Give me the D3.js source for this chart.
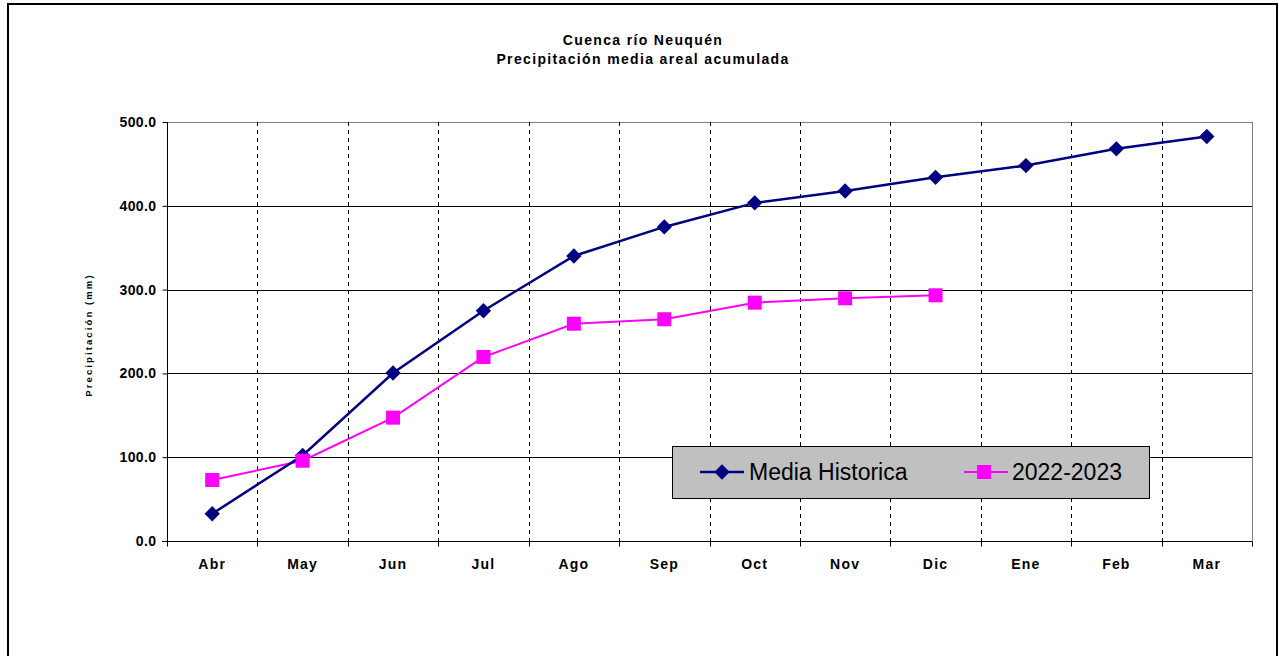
<!DOCTYPE html>
<html>
<head>
<meta charset="utf-8">
<script src="https://cdn.jsdelivr.net/npm/d3@7"></script>
<style>
  html, body { margin: 0; padding: 0; background: #fff; }
  svg { display: block; font-family: "Liberation Sans", Arial, sans-serif; }
</style>
</head>
<body>
<svg id="chart" width="1279" height="656"></svg>
<script>
// Monthly categories (hydrological year April–March)
const months = ["Abr", "May", "Jun", "Jul", "Ago", "Sep", "Oct", "Nov", "Dic", "Ene", "Feb", "Mar"];
// Accumulated areal mean precipitation (mm)
const mediaHistorica = [32.5, 102.0, 200.5, 274.8, 340.1, 374.8, 403.5, 417.7, 434.0, 448.0, 468.0, 482.7];
const temporada = [72.8, 95.8, 147.2, 219.6, 259.3, 264.6, 284.4, 289.6, 293.2];
const yTicks = [0, 100, 200, 300, 400, 500];

const titleLines = ["Cuenca río Neuquén", "Precipitación media areal acumulada"];
const seriesNames = ["Media Historica", "2022-2023"];

const svg = d3.select("#chart");

// outer frame
svg.append("rect")
  .attr("x", 8).attr("y", 4).attr("width", 1269).attr("height", 670)
  .attr("fill", "#fff").attr("stroke", "#000").attr("stroke-width", 2);

const plot = { left: 167, right: 1252, top: 122, bottom: 541 };

const x = d3.scaleBand().domain(months).range([plot.left, plot.right]).padding(0);
const y = d3.scaleLinear().domain([0, 500]).range([plot.bottom, plot.top]);

// title
svg.append("g").selectAll("text").data(titleLines).join("text")
  .attr("x", 643).attr("y", (d, i) => 45 + i * 19)
  .attr("text-anchor", "middle")
  .attr("font-size", 14).attr("font-weight", "bold")
  .attr("letter-spacing", 1.35)
  .text(d => d);

// horizontal gridlines
svg.append("g").selectAll("line").data(yTicks.filter(d => d > 0)).join("line")
  .attr("x1", plot.left).attr("x2", plot.right)
  .attr("y1", d => Math.round(y(d)) + 0.5).attr("y2", d => Math.round(y(d)) + 0.5)
  .attr("stroke", d => d === 500 ? "#808080" : "#000").attr("stroke-width", 1);

// vertical dashed gridlines at category boundaries
const bounds = months.slice(1).map(m => x(m));
svg.append("g").selectAll("line").data(bounds).join("line")
  .attr("x1", d => Math.round(d) + 0.5).attr("x2", d => Math.round(d) + 0.5)
  .attr("y1", plot.top).attr("y2", plot.bottom)
  .attr("stroke", "#000").attr("stroke-width", 1).attr("stroke-dasharray", "4,4");

// right border of plot area
svg.append("line")
  .attr("x1", plot.right + 0.5).attr("x2", plot.right + 0.5)
  .attr("y1", plot.top).attr("y2", plot.bottom + 4)
  .attr("stroke", "#808080");

// y axis
const yAxis = d3.axisLeft(y).tickValues(yTicks).tickFormat(d3.format(".1f")).tickSize(5).tickPadding(6);
const gy = svg.append("g").attr("transform", `translate(${plot.left + 0.5},0)`).call(yAxis);
gy.select(".domain").attr("stroke", "#000").attr("d", `M0,${plot.top}V${plot.bottom}`);
gy.selectAll(".tick line").attr("stroke", "#000");
gy.selectAll(".tick text").attr("font-size", 14).attr("font-weight", "bold")
  .attr("letter-spacing", 0.4)
  .attr("font-family", "Liberation Sans, Arial, sans-serif").attr("fill", "#000");

// x axis
const xAxis = d3.axisBottom(x).tickSize(0).tickPadding(18);
const gx = svg.append("g").attr("transform", `translate(0,${plot.bottom + 0.5})`).call(xAxis);
gx.select(".domain").attr("stroke", "#000").attr("d", `M${plot.left - 5},0H${plot.right}`);
gx.selectAll(".tick text").attr("font-size", 14).attr("font-weight", "bold")
  .attr("letter-spacing", 1.2)
  .attr("font-family", "Liberation Sans, Arial, sans-serif").attr("fill", "#000");
// boundary ticks on x axis
gx.append("g").selectAll("line").data([plot.left].concat(bounds, [plot.right])).join("line")
  .attr("x1", d => Math.round(d) + 0.5).attr("x2", d => Math.round(d) + 0.5)
  .attr("y1", 0).attr("y2", 5).attr("stroke", "#000");

// y axis title
svg.append("text")
  .attr("transform", "translate(92,335) rotate(-90)")
  .attr("text-anchor", "middle")
  .attr("font-size", 9.5).attr("font-weight", "900").attr("letter-spacing", 2.1)
  .text("Precipitación (mm)");

// series
const cx = (d, i) => x(months[i]) + x.bandwidth() / 2;
const line = d3.line().x(cx).y(d => y(d));

svg.append("path").datum(temporada)
  .attr("d", line).attr("fill", "none")
  .attr("stroke", "#ff00ff").attr("stroke-width", 2);
svg.append("path").datum(mediaHistorica)
  .attr("d", line).attr("fill", "none")
  .attr("stroke", "#000080").attr("stroke-width", 2.5);

const diamond = d3.symbol().type(d3.symbolDiamond2).size(150);
svg.append("g").selectAll("path").data(mediaHistorica).join("path")
  .attr("transform", (d, i) => `translate(${cx(d, i)},${y(d)})`)
  .attr("d", diamond).attr("fill", "#000080");

svg.append("g").selectAll("rect").data(temporada).join("rect")
  .attr("x", (d, i) => cx(d, i) - 7).attr("y", d => y(d) - 7)
  .attr("width", 14).attr("height", 14).attr("fill", "#ff00ff");

// legend
const lg = svg.append("g");
lg.append("rect").attr("x", 672.5).attr("y", 446.5).attr("width", 477).attr("height", 52)
  .attr("fill", "#c0c0c0").attr("stroke", "#000").attr("stroke-width", 1);
lg.append("line").attr("x1", 700).attr("x2", 744).attr("y1", 472).attr("y2", 472)
  .attr("stroke", "#000080").attr("stroke-width", 2.5);
lg.append("path").attr("transform", "translate(722,472)").attr("d", diamond).attr("fill", "#000080");
lg.append("text").attr("x", 749).attr("y", 480).attr("font-size", 23).text(seriesNames[0]);
lg.append("line").attr("x1", 964).attr("x2", 1008).attr("y1", 472).attr("y2", 472)
  .attr("stroke", "#ff00ff").attr("stroke-width", 2);
lg.append("rect").attr("x", 977).attr("y", 465).attr("width", 14).attr("height", 14).attr("fill", "#ff00ff");
lg.append("text").attr("x", 1012).attr("y", 480).attr("font-size", 23).text(seriesNames[1]);
</script>
</body>
</html>
